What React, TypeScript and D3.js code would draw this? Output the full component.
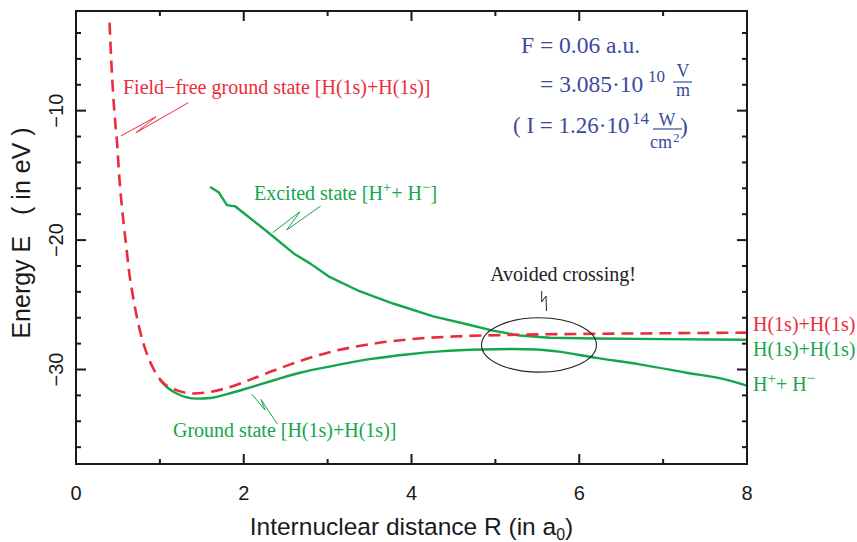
import React from "react";
import * as d3 from "d3";

// Potential energy curves of H2 in a static field F = 0.06 a.u.
// R in Bohr radii, E in eV.

const fieldFreeR = [0.40, 0.42, 0.44, 0.465, 0.49, 0.515, 0.55, 0.576, 0.60, 0.63, 0.665, 0.715, 0.77, 0.84, 0.92, 1.02, 1.16, 1.40, 1.76, 2.07, 2.35, 2.67, 3.0, 3.5, 4.0, 4.5, 5.0, 6.0, 7.0, 8.0];
const fieldFreeE = [-3.2, -6.1, -8.4, -10.7, -12.5, -15.0, -17.6, -19.2, -20.5, -22.3, -23.8, -25.6, -27.2, -28.7, -29.9, -30.9, -31.5, -31.85, -31.5, -30.8, -30.1, -29.35, -28.7, -28.05, -27.65, -27.45, -27.35, -27.25, -27.2, -27.15];

const groundR = [1.0, 1.1, 1.2, 1.32, 1.44, 1.6, 1.8, 2.07, 2.35, 2.67, 3.0, 3.5, 4.0, 4.34, 4.85, 5.2, 5.49, 5.73, 6.2, 6.72, 7.28, 7.76, 8.0];
const groundE = [-30.8, -31.45, -31.85, -32.15, -32.25, -32.2, -31.9, -31.4, -30.85, -30.25, -29.8, -29.2, -28.8, -28.6, -28.45, -28.42, -28.45, -28.6, -29.1, -29.6, -30.25, -30.8, -31.25];

const excitedR = [1.60, 1.70, 1.80, 1.90, 2.27, 2.61, 2.79, 3.01, 3.38, 3.78, 4.26, 4.66, 4.97, 5.29, 5.65, 6.2, 7.0, 8.0];
const excitedE = [-15.9, -16.3, -17.3, -17.4, -19.3, -21.1, -21.8, -22.8, -23.95, -24.9, -25.9, -26.5, -27.0, -27.37, -27.55, -27.6, -27.65, -27.7];

const xMajorTicks = [0, 2, 4, 6, 8];
const xMinorTicks = [1, 3, 5, 7];
const yMajorTicks = [-10, -20, -30];
const yMinorTicks = [-4, -6, -8, -12, -14, -16, -18, -22, -24, -26, -28, -32, -34, -36];

// Avoided-crossing marker: centre and half-axes in data units
const crossingCenter = [5.52, -28.1];
const crossingHalfAxes = [0.685, 2.1];

const W = 857;
const H = 542;
const plot = { left: 76, right: 747, top: 11, bottom: 464 };

const RED = "#ec2b3b";
const GREEN = "#13a64b";
const BLUE = "#3c4a9c";
const SERIF = "'Liberation Serif', 'Times New Roman', serif";
const SANS = "'Liberation Sans', Arial, sans-serif";

export default function App() {
  const x = d3.scaleLinear().domain([0, 8]).range([plot.left, plot.right]);
  const y = d3.scaleLinear().domain([-37.3, -2.3]).range([plot.bottom, plot.top]);

  const smooth = d3
    .line<[number, number]>()
    .x((d) => x(d[0]))
    .y((d) => y(d[1]))
    .curve(d3.curveMonotoneX);
  const straight = d3
    .line<[number, number]>()
    .x((d) => x(d[0]))
    .y((d) => y(d[1]))
    .curve(d3.curveLinear);

  const zip = (a: number[], b: number[]) => a.map((v, i) => [v, b[i]] as [number, number]);

  const major = 10;
  const minor = 5;

  const ecx = x(crossingCenter[0]);
  const ecy = y(crossingCenter[1]);
  const erx = x(crossingCenter[0] + crossingHalfAxes[0]) - ecx;
  const ery = ecy - y(crossingCenter[1] + crossingHalfAxes[1]);

  const zig = (pts: number[][]) => pts.map((p) => p.join(",")).join(" ");

  return (
    <div style={{ position: "absolute", left: 0, top: 0 }}>
      <svg width={W} height={H} viewBox={`0 0 ${W} ${H}`} style={{ display: "block", background: "#fff" }}>
        <defs>
          <clipPath id="plotClip">
            <rect x={plot.left} y={plot.top} width={plot.right - plot.left} height={plot.bottom - plot.top} />
          </clipPath>
        </defs>

        {/* curves */}
        <g clipPath="url(#plotClip)" fill="none">
          <path d={straight(zip(excitedR, excitedE)) || ""} stroke={GREEN} strokeWidth={2.4} strokeLinejoin="round" />
          <path d={smooth(zip(groundR, groundE)) || ""} stroke={GREEN} strokeWidth={2.4} />
          <path d={smooth(zip(fieldFreeR, fieldFreeE)) || ""} stroke={RED} strokeWidth={2.6} strokeDasharray="12,7" />
          <ellipse cx={ecx} cy={ecy} rx={erx} ry={ery} stroke="#222" strokeWidth={1.1} />
        </g>

        {/* frame and ticks */}
        <g stroke="#1a1a1a" strokeWidth={2}>
          <rect x={plot.left} y={plot.top} width={plot.right - plot.left} height={plot.bottom - plot.top} fill="none" />
          {xMajorTicks.map((t) => (
            <g key={`xM${t}`}>
              <line x1={x(t)} x2={x(t)} y1={plot.bottom} y2={plot.bottom - major} />
              <line x1={x(t)} x2={x(t)} y1={plot.top} y2={plot.top + major} />
            </g>
          ))}
          {xMinorTicks.map((t) => (
            <g key={`xm${t}`}>
              <line x1={x(t)} x2={x(t)} y1={plot.bottom} y2={plot.bottom - minor} />
              <line x1={x(t)} x2={x(t)} y1={plot.top} y2={plot.top + minor} />
            </g>
          ))}
          {yMajorTicks.map((t) => (
            <g key={`yM${t}`}>
              <line x1={plot.left} x2={plot.left + major} y1={y(t)} y2={y(t)} />
              <line x1={plot.right} x2={plot.right - major} y1={y(t)} y2={y(t)} />
            </g>
          ))}
          {yMinorTicks.map((t) => (
            <g key={`ym${t}`}>
              <line x1={plot.left} x2={plot.left + minor} y1={y(t)} y2={y(t)} />
              <line x1={plot.right} x2={plot.right - minor} y1={y(t)} y2={y(t)} />
            </g>
          ))}
        </g>

        {/* tick labels */}
        <g fontFamily={SANS} fontSize={20} fill="#1a1a1a">
          {xMajorTicks.map((t) => (
            <text key={`xl${t}`} x={x(t)} y={plot.bottom + 36} textAnchor="middle">
              {t}
            </text>
          ))}
          {yMajorTicks.map((t) => (
            <text
              key={`yl${t}`}
              transform={`translate(${plot.left - 13},${y(t)}) rotate(-90)`}
              textAnchor="middle"
            >
              {`\u2212${Math.abs(t)}`}
            </text>
          ))}
        </g>

        {/* axis titles */}
        <text x={x(4)} y={535} textAnchor="middle" fontFamily={SANS} fontSize={24.5} fill="#1a1a1a">
          Internuclear distance R (in a
          <tspan fontSize={16} dy={5}>0</tspan>
          <tspan dy={-5}>)</tspan>
        </text>
        <text
          transform={`translate(30,233) rotate(-90)`}
          textAnchor="middle"
          fontFamily={SANS}
          fontSize={25}
          fill="#1a1a1a"
          style={{ whiteSpace: "pre" }}
        >
          {"Energy E   ( in eV )"}
        </text>

        {/* curve annotations */}
        <g fontFamily={SERIF} fontSize={20}>
          <text x={123} y={94} fill={RED}>
            Field{"\u2212"}free ground state [H(1s)+H(1s)]
          </text>
          <polyline points={zig([[120.7, 136], [156, 116.7], [136, 132.7], [188.3, 102.7]])} fill="none" stroke={RED} strokeWidth={1} />

          <text x={254} y={200} fill={GREEN}>
            Excited state [H
            <tspan fontSize={15} dy={-8}>+</tspan>
            <tspan dy={8}>+ H</tspan>
            <tspan fontSize={15} dy={-8}>{"\u2212"}</tspan>
            <tspan dy={8}>]</tspan>
          </text>
          <polyline points={zig([[272.7, 232.7], [300, 211.7], [286.7, 230], [320.7, 206]])} fill="none" stroke={GREEN} strokeWidth={1} />

          <text x={173} y={437} fill={GREEN}>
            Ground state [H(1s)+H(1s)]
          </text>
          <polyline points={zig([[251.7, 394], [265, 410], [261, 399.5], [277.3, 424]])} fill="none" stroke={GREEN} strokeWidth={1} />

          <text x={563} y={281} fill="#222" textAnchor="middle">
            Avoided crossing!
          </text>
          <polyline points={zig([[541.7, 291], [541.7, 302], [546, 296], [546.5, 311]])} fill="none" stroke="#222" strokeWidth={1} />

          {/* asymptote labels */}
          <text x={753} y={331} fill={RED}>H(1s)+H(1s)</text>
          <text x={753} y={356} fill={GREEN}>H(1s)+H(1s)</text>
          <text x={753} y={391} fill={GREEN}>
            H<tspan fontSize={15} dy={-8}>+</tspan>
            <tspan dy={8}>+ H</tspan>
            <tspan fontSize={15} dy={-8}>{"\u2212"}</tspan>
          </text>
        </g>

        {/* field strength box */}
        <g fontFamily={SERIF} fontSize={23.5} fill={BLUE}>
          <text x={521} y={53}>F = 0.06 a.u.</text>
          <text x={540} y={92}>= 3.085{"\u00b7"}10</text>
          <text x={648} y={82} fontSize={17}>10</text>
          <text x={683} y={77} fontSize={18} textAnchor="middle">V</text>
          <line x1={673} x2={692} y1={82} y2={82} stroke={BLUE} strokeWidth={1.2} />
          <text x={683} y={96} fontSize={18} textAnchor="middle">m</text>

          <text x={513} y={133} fontSize={23} style={{ whiteSpace: "pre" }}>{"( I = 1.26\u00b710"}</text>
          <text x={632} y={124} fontSize={17}>14</text>
          <text x={667} y={126} fontSize={18} textAnchor="middle">W</text>
          <line x1={653} x2={682} y1={129} y2={129} stroke={BLUE} strokeWidth={1.2} />
          <text x={650} y={148} fontSize={18}>cm</text>
          <text x={673} y={142} fontSize={13}>2</text>
          <text x={680} y={134}>)</text>
        </g>
      </svg>
    </div>
  );
}
